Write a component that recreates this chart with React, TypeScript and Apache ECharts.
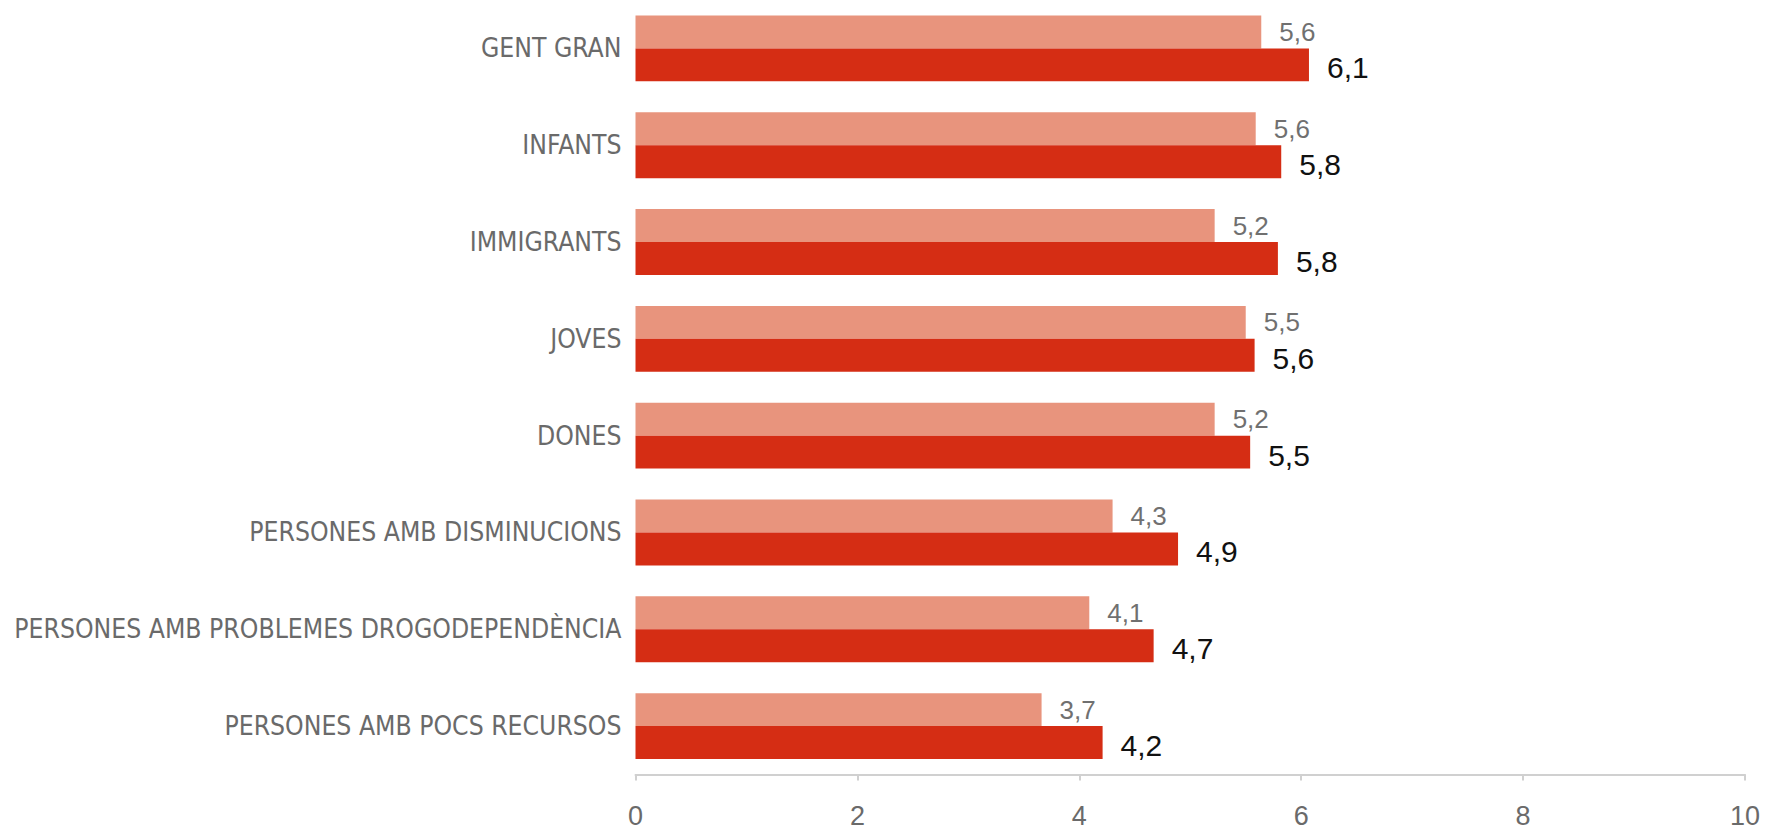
import React, { useEffect, useRef } from "react";
import * as echarts from "echarts";

const categories = [
  "GENT GRAN",
  "INFANTS",
  "IMMIGRANTS",
  "JOVES",
  "DONES",
  "PERSONES AMB DISMINUCIONS",
  "PERSONES AMB PROBLEMES DROGODEPENDÈNCIA",
  "PERSONES AMB POCS RECURSOS",
];
const lightValues = [5.64, 5.59, 5.22, 5.5, 5.22, 4.3, 4.09, 3.66];
const darkValues = [6.07, 5.82, 5.79, 5.58, 5.54, 4.89, 4.67, 4.21];
const xTicks = [0, 2, 4, 6, 8, 10];

const FONT = "'Liberation Sans Narrow', 'DejaVu Sans Condensed', 'Liberation Sans', sans-serif";
const fmt = (v: number) => v.toFixed(1).replace(".", ",");

export default function App() {
  const ref = useRef<HTMLDivElement>(null);
  useEffect(() => {
    if (!ref.current) return;
    const chart = echarts.init(ref.current, undefined, { renderer: "svg" });
    chart.setOption({
      animation: false,
      grid: { left: 635.5, right: 22, top: -2.6, bottom: 55.5, containLabel: false },
      xAxis: {
        type: "value",
        min: xTicks[0],
        max: xTicks[xTicks.length - 1],
        interval: 2,
        axisLine: { show: true, lineStyle: { color: "#d0d0d0", width: 2 } },
        axisTick: { show: true, length: 6, lineStyle: { color: "#d0d0d0", width: 2 } },
        splitLine: { show: false },
        axisLabel: {
          color: "#6a6a6a",
          fontSize: 27,
          fontFamily: "'Liberation Sans', sans-serif",
          margin: 28,
          formatter: (v: number) => String(v),
        },
      },
      yAxis: {
        type: "category",
        data: categories,
        inverse: true,
        axisLine: { show: false },
        axisTick: { show: false },
        axisLabel: {
          color: "#6a6a6a",
          fontSize: 26.3,
          fontFamily: FONT,
          margin: 14,
        },
      },
      series: [
        {
          type: "bar",
          data: lightValues,
          barGap: "0%",
          barCategoryGap: "32%",
          itemStyle: { color: "#E8947D" },
          label: {
            show: true,
            position: "right",
            distance: 18,
            color: "#707070",
            fontSize: 26,
            fontFamily: "'Liberation Sans', sans-serif",
            formatter: (p: any) => fmt(p.value),
          },
        },
        {
          type: "bar",
          data: darkValues,
          barGap: "0%",
          barCategoryGap: "32%",
          itemStyle: { color: "#D52D14" },
          label: {
            show: true,
            position: "right",
            distance: 18,
            color: "#111111",
            fontSize: 30,
            fontFamily: "'Liberation Sans', sans-serif",
            offset: [0, 3],
            formatter: (p: any) => fmt(p.value),
          },
        },
      ],
    });
    return () => chart.dispose();
  }, []);
  return (
    <div
      ref={ref}
      style={{ position: "fixed", left: 0, top: 0, width: 1767, height: 830, background: "#ffffff" }}
    />
  );
}
